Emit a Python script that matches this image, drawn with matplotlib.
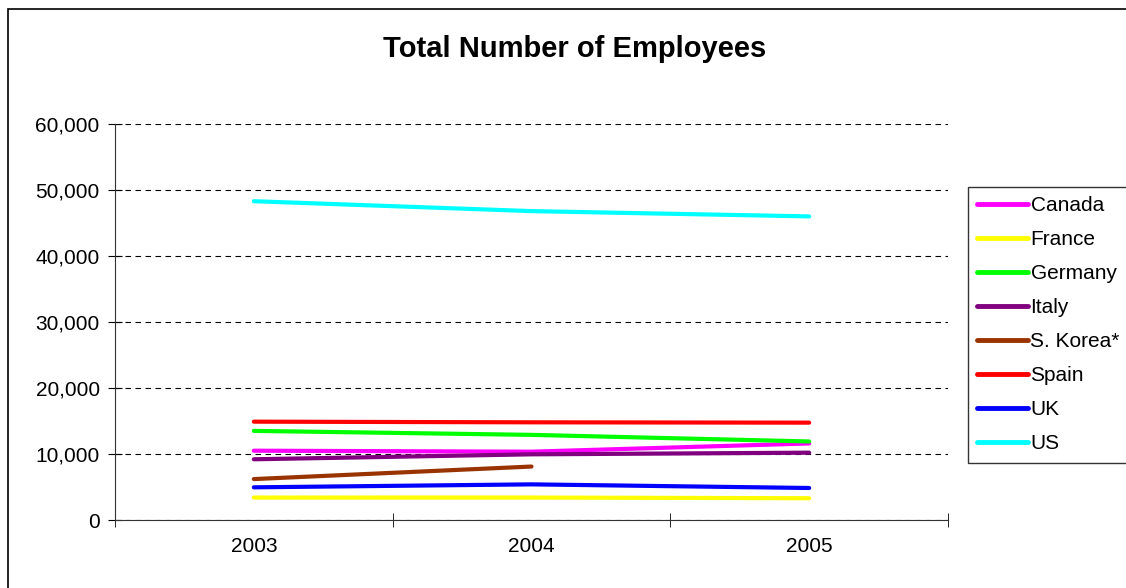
import numpy as np
import matplotlib.pyplot as plt
from matplotlib.patches import Rectangle

plt.rcParams['font.family'] = ['Liberation Sans', 'DejaVu Sans']

# ============== data ===================
years = ['2003', '2004', '2005']
canada  = [10500, 10350, 11600]
france  = [3400, 3400, 3300]
germany = [13500, 12900, 11900]
italy   = [9200, 9950, 10200]
korea   = [6200, 8100, None]
spain   = [14900, 14800, 14750]
uk      = [4950, 5400, 4850]
us      = [48300, 46800, 46000]

names  = ['Canada', 'France', 'Germany', 'Italy', 'S. Korea*', 'Spain', 'UK', 'US']
series = [canada, france, germany, italy, korea, spain, uk, us]
colors = ['#ff00ff', '#ffff00', '#00ff00', '#800080', '#993300', '#ff0000', '#0000ff', '#00ffff']

# ============== plot ===================
fig = plt.figure(figsize=(11.26, 5.88), dpi=100)
ax = fig.add_axes([115/1126, 68/588, 833/1126, 396/588])

x = np.arange(len(years))
for name, vals, c in zip(names, series, colors):
    v = np.array([np.nan if s is None else s for s in vals], dtype=float)
    ax.plot(x, v, color=c, lw=3, label=name, solid_capstyle='round')

ax.set_xlim(-0.5, 2.5)
ax.set_ylim(0, 60000)
ax.set_yticks(np.arange(0, 60001, 10000))
ax.set_yticklabels(['{:,}'.format(t) for t in range(0, 60001, 10000)], fontsize=15)
ax.yaxis.grid(True, linestyle=(0, (5, 4)), color='black', lw=0.8)
ax.set_axisbelow(True)

ax.set_xticks(x)
ax.set_xticklabels(years, fontsize=15)
ax.tick_params(axis='x', which='major', length=0, pad=12)
ax.set_xticks([-0.5, 0.5, 1.5, 2.5], minor=True)
ax.tick_params(axis='x', which='minor', length=10, direction='inout')
ax.tick_params(axis='y', length=10, direction='inout', pad=6)

for s in ['top', 'right']:
    ax.spines[s].set_visible(False)
ax.spines['left'].set_color('#333333')
ax.spines['bottom'].set_color('#333333')

fig.text(575/1126, 1 - 49/588, 'Total Number of Employees', ha='center', va='center',
         fontsize=21, fontweight='bold')

leg = fig.legend(loc='upper left', bbox_to_anchor=(968/1126, 1 - 187/588),
                 fontsize=15, frameon=True, fancybox=False, handlelength=2.45,
                 handletextpad=0.1, labelspacing=0.72, borderaxespad=0, borderpad=0.45)
leg.get_frame().set_edgecolor('black')
leg.get_frame().set_linewidth(1)
for h in leg.get_lines():
    h.set_linewidth(3.5)

fig.patches.append(Rectangle((8/1126, -0.1), 1.2, 1.1 - 9/588, transform=fig.transFigure,
                             fill=False, edgecolor='black', lw=1.2))

plt.savefig('out.png', dpi=100)
